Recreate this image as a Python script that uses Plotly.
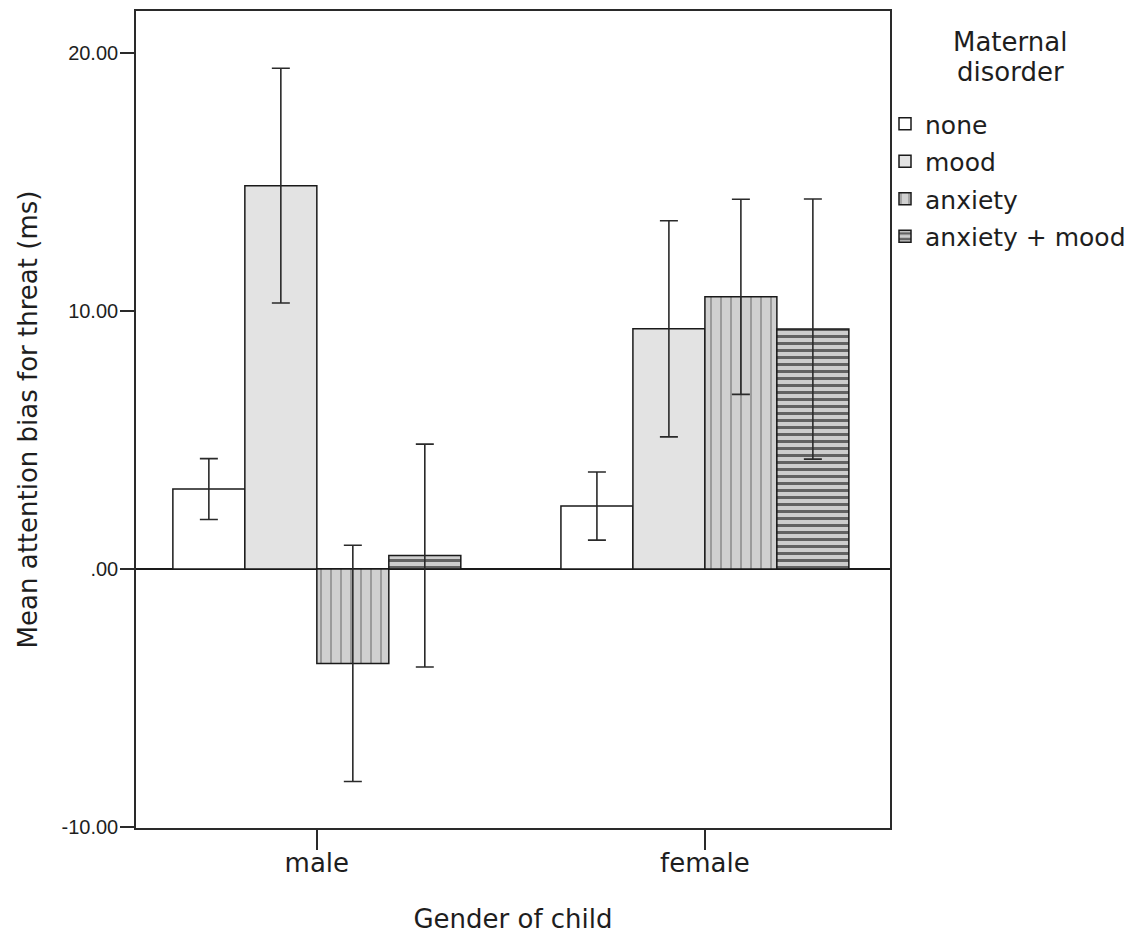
import plotly.graph_objects as go

categories = ["male", "female"]
groups = ["none", "mood", "anxiety", "anxiety + mood"]

means = {
    "none": [3.10, 2.44],
    "mood": [14.86, 9.31],
    "anxiety": [-3.66, 10.55],
    "anxiety + mood": [0.52, 9.30],
}
ci_half = {
    "none": [1.18, 1.32],
    "mood": [4.55, 4.19],
    "anxiety": [4.58, 3.78],
    "anxiety + mood": [4.32, 5.04],
}

y_tick_vals = [-10, 0, 10, 20]
y_tick_text = ["-10.00", ".00", "10.00", "20.00"]
legend_title_lines = ["Maternal", "disorder"]

styles = {
    "none": dict(color="#ffffff"),
    "mood": dict(color="#e3e3e3"),
    "anxiety": dict(color="#d0d0d0",
                    pattern=dict(shape="|", fgcolor="#8a8a8a", bgcolor="#d0d0d0",
                                 size=10, solidity=0.15, fillmode="replace")),
    "anxiety + mood": dict(color="#cccccc",
                           pattern=dict(shape="-", fgcolor="#626262", bgcolor="#cdcdcd",
                                        size=7, solidity=0.43, fillmode="replace")),
}

FONT = "DejaVu Sans"
TICKFONT = "Liberation Sans"
TXT = "#1e1e1e"

# page body has an 8px margin: shrink the figure so the plot lands where the reference has it
W, H = 1132 - 8, 939 - 8
ML, MT, MR, MB = 136 - 8, 11 - 8, 242, 111

fig = go.Figure()
for g in groups:
    st = styles[g]
    marker = dict(color=st["color"], line=dict(color="#1a1a1a", width=1.5))
    if "pattern" in st:
        marker["pattern"] = st["pattern"]
    fig.add_trace(go.Bar(
        name=g,
        legendgroup=g,
        x=categories,
        y=means[g],
        marker=marker,
        error_y=dict(type="data", array=ci_half[g], visible=True,
                     color="#2a2a2a", thickness=1.6, width=9),
    ))

plot_h = H - MT - MB
plot_w = W - ML - MR


def py(ypix):
    # window pixel y -> paper y
    return 1 - (ypix - 11) / plot_h


def px(xpix):
    return (xpix - 136) / plot_w


annotations = []
for line, yc in zip(legend_title_lines, [42, 72]):
    annotations.append(dict(
        text=line, xref="paper", yref="paper", x=px(1010), y=py(yc),
        xanchor="center", yanchor="middle", showarrow=False,
        font=dict(family=FONT, size=26, color=TXT),
    ))

fig.update_layout(
    width=W, height=H,
    barmode="group", bargap=0.258, bargroupgap=0,
    paper_bgcolor="white", plot_bgcolor="white",
    margin=dict(l=ML, r=MR, t=MT, b=MB, autoexpand=False),
    font=dict(family=FONT, size=25, color=TXT),
    showlegend=True,
    annotations=annotations,
    legend=dict(
        x=px(885), xanchor="left", y=py(101), yanchor="top",
        font=dict(family=FONT, size=25, color=TXT),
        bgcolor="rgba(0,0,0,0)", borderwidth=0,
        tracegroupgap=2,
    ),
    xaxis=dict(
        type="category",
        range=[-0.466, 1.477],
        showline=True, linecolor="#2a2a2a", linewidth=1.6, mirror=True,
        ticks="outside", ticklen=20, tickwidth=1.6, tickcolor="#2a2a2a",
        tickfont=dict(family=FONT, size=26, color=TXT),
        ticklabelstandoff=-9,
        showgrid=False, zeroline=False,
        title=dict(text="Gender of child", font=dict(family=FONT, size=26, color=TXT),
                   standoff=33),
        automargin=False,
    ),
    yaxis=dict(
        range=[-10.04, 21.63],
        tickvals=y_tick_vals, ticktext=y_tick_text,
        showline=True, linecolor="#2a2a2a", linewidth=1.6, mirror=True,
        ticks="outside", ticklen=14, tickwidth=1.6, tickcolor="#2a2a2a",
        tickfont=dict(family=TICKFONT, size=20, color=TXT),
        ticklabelstandoff=-2,
        showgrid=False,
        zeroline=True, zerolinecolor="#1a1a1a", zerolinewidth=1.6,
        title=dict(text="Mean attention bias for threat (ms)",
                   font=dict(family=FONT, size=26, color=TXT), standoff=16),
        automargin=False,
    ),
)

fig.write_html("out.html")
